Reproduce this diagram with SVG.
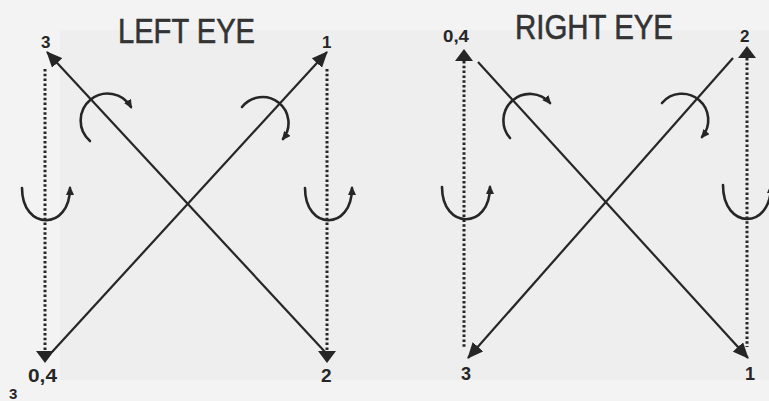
<svg xmlns="http://www.w3.org/2000/svg" width="769" height="401" viewBox="0 0 769 401">
<defs>
<style>
.ln{stroke:#262626;stroke-width:2.2;fill:none}
.dot{stroke:#262626;stroke-width:3;fill:none;stroke-dasharray:2.5 2.3}
.arc{stroke:#262626;stroke-width:2.6;fill:none;stroke-linecap:round}
.head{fill:#262626}
.title{font-family:"Liberation Sans",Arial,sans-serif;font-size:35px;fill:#333;stroke:#333;stroke-width:0.6}
.lbl{font-family:"Liberation Sans",Arial,sans-serif;font-weight:bold;fill:#262626}
</style>
<marker id="big" markerUnits="userSpaceOnUse" markerWidth="16" markerHeight="14" refX="15" refY="7" orient="auto" viewBox="0 0 16 14">
<path d="M0,0 L16,7 L0,14 z" fill="#262626"/>
</marker>
<marker id="small" markerUnits="userSpaceOnUse" markerWidth="9" markerHeight="8" refX="7" refY="4" orient="auto" viewBox="0 0 9 8">
<path d="M0,0 L9,4 L0,8 z" fill="#262626"/>
</marker>
</defs>
<rect width="769" height="401" fill="#f3f3f3"/>
<rect x="60" y="30" width="709" height="350" fill="#eeeeee"/>

<g id="left-eye-title"><text class="title" x="118" y="43" textLength="137" lengthAdjust="spacingAndGlyphs">LEFT EYE</text></g>
<g id="right-eye-title"><text class="title" x="515" y="39" textLength="158" lengthAdjust="spacingAndGlyphs">RIGHT EYE</text></g>

<g id="connectors">
<line class="ln" x1="326" y1="353" x2="47" y2="52" marker-end="url(#big)"/>
<line class="ln" x1="52" y1="352" x2="327" y2="52" marker-end="url(#big)"/>
<line class="dot" x1="45" y1="69" x2="45" y2="352"/>
<line class="dot" x1="327" y1="69" x2="327" y2="352"/>
<polygon class="head" points="36,351 54,351 45,363"/>
<polygon class="head" points="318,351 336,351 327,363"/>
<path class="arc" d="M90,141 A27,27 0 1 1 131,107" marker-end="url(#small)"/>
<path class="arc" d="M242,107 A26,26 0 1 1 283,139" marker-end="url(#small)"/>
<path class="arc" d="M22,188 C22,231 70,231 70,188" marker-end="url(#small)"/>
<path class="arc" d="M305,188 C305,231 352,231 352,188" marker-end="url(#small)"/>

<line class="ln" x1="478" y1="62" x2="748" y2="358" marker-end="url(#big)"/>
<line class="ln" x1="733" y1="58" x2="468" y2="358" marker-end="url(#big)"/>
<line class="dot" x1="464" y1="61" x2="464" y2="347"/>
<line class="dot" x1="747" y1="58" x2="747" y2="347"/>
<polygon class="head" points="455,61 473,61 464,49"/>
<polygon class="head" points="738,58 756,58 747,46"/>
<path class="arc" d="M510,138 A26,26 0 1 1 550,103" marker-end="url(#small)"/>
<path class="arc" d="M662,103 A25,25 0 1 1 702,137" marker-end="url(#small)"/>
<path class="arc" d="M442,187 C442,230 490,230 490,187" marker-end="url(#small)"/>
<path class="arc" d="M723,185 C723,230 771,230 771,186" marker-end="url(#small)"/>
</g>

<g id="left-labels">
<text class="lbl" x="41" y="48" font-size="17">3</text>
<text class="lbl" x="322" y="48" font-size="17">1</text>
<text class="lbl" x="28" y="382" font-size="19" textLength="29" lengthAdjust="spacingAndGlyphs">0,4</text>
<text class="lbl" x="321" y="382" font-size="19">2</text>
<text class="lbl" x="9" y="399" font-size="15">3</text>
</g>
<g id="right-labels">
<text class="lbl" x="443" y="42" font-size="17" textLength="26" lengthAdjust="spacingAndGlyphs">0,4</text>
<text class="lbl" x="740" y="42" font-size="17">2</text>
<text class="lbl" x="461" y="380" font-size="18">3</text>
<text class="lbl" x="745" y="380" font-size="18">1</text>
</g>
</svg>
